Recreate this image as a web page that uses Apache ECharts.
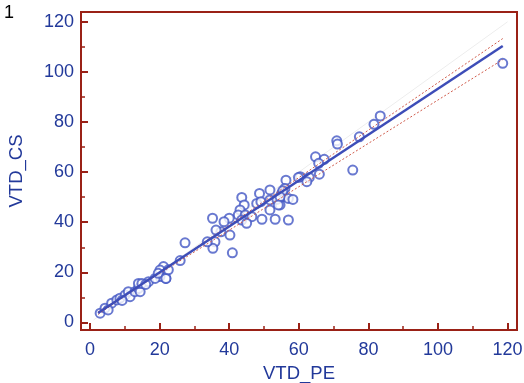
<!DOCTYPE html>
<html>
<head>
<meta charset="utf-8">
<script src="https://cdn.jsdelivr.net/npm/echarts@6/dist/echarts.min.js"></script>
<style>
  html, body { margin: 0; padding: 0; background: #fff; }
  #chart { width: 524px; height: 383px; }
</style>
</head>
<body>
<div id="chart"></div>
<script>
// measured values (VTD_PE vs VTD_CS)
const peValues = [
  118.6, 83.4, 81.6, 77.4, 75.5, 70.9, 71.1, 64.8, 67.3, 65.7, 65.9, 60.4, 63.0, 62.3,
  56.3, 59.9, 56.0, 55.1, 55.4, 57.0, 58.3, 54.6, 57.0,
  51.7, 48.7, 43.6, 44.3, 47.9, 49.1, 51.7, 53.7, 55.4, 54.6, 51.7, 54.1,
  49.4, 53.2, 43.1, 42.6, 44.6, 46.5, 43.6, 45.0, 40.0, 38.5, 35.2, 40.2, 37.6, 36.2,
  35.9, 35.3, 33.7, 27.3, 40.9, 25.9, 21.1, 21.8, 20.1,
  2.9, 4.3, 6.2, 7.7, 8.6, 10.1, 11.0, 11.5, 12.9, 13.9, 14.4, 13.9, 14.9, 16.8,
  18.7, 20.1, 19.6, 21.8, 5.2, 9.2, 16.0, 22.5
];
const csValues = [
  103.4, 82.4, 79.1, 74.1, 60.8, 72.5, 71.2, 66.1, 65.1, 63.5, 59.2, 58.2, 57.9, 56.2,
  56.8, 57.9, 53.5, 51.5, 50.2, 49.5, 49.1, 46.9, 40.9,
  52.9, 51.5, 49.9, 46.9, 47.5, 48.2, 48.9, 49.1, 52.6, 50.2, 44.9, 46.9,
  41.2, 41.2, 44.9, 42.9, 42.9, 42.2, 40.9, 39.6, 41.6, 40.2, 41.6, 34.9, 36.2, 36.9,
  32.2, 29.6, 32.2, 31.8, 27.8, 24.7, 22.3, 17.6, 18.3,
  3.7, 5.7, 7.7, 9.0, 9.7, 11.0, 12.3, 10.3, 12.3, 13.6, 12.3, 15.6, 15.6, 16.3,
  17.6, 20.9, 19.6, 17.6, 5.0, 8.8, 15.2, 21.0
];

// regression line, 95% CI lines, identity line (end points)
const regX = [2.3, 118.6];
const regY = [3.8, 110.3];
const ciUpperX = [2.3, 118.6];
const ciUpperY = [3.2, 113.3];
const ciLowerX = [2.3, 118.6];
const ciLowerY = [4.2, 104.9];
const identX = [1, 120];
const identY = [1, 120];

const majorTicks = [0, 20, 40, 60, 80, 100, 120];
const minorTicks = [10, 30, 50, 70, 90, 110];

const frameColor = '#9a2116';
const textColor = '#22399a';
const fontFamily = '"Liberation Sans", Arial, sans-serif';

const pairs = (xs, ys) => xs.map((x, i) => [x, ys[i]]);

const axisBase = (min, max) => ({
  type: 'value',
  min: min,
  max: max,
  splitLine: { show: false },
  axisLine: { show: true, onZero: false, lineStyle: { color: frameColor, width: 2 } },
});

const chart = echarts.init(document.getElementById('chart'));

chart.setOption({
  animation: false,
  title: {
    text: '1',
    left: -1,
    top: -1,
    textStyle: { color: '#000', fontSize: 18, fontWeight: 'normal', fontFamily: fontFamily },
  },
  grid: {
    left: 81,
    right: 7,
    top: 12,
    bottom: 53,
    outerBoundsMode: 'none',
    containLabel: false,
    show: true,
    borderColor: frameColor,
    borderWidth: 2,
  },
  xAxis: [
    {
      ...axisBase(-2.6, 122.7),
      position: 'bottom',
      name: 'VTD_PE',
      nameLocation: 'middle',
      nameGap: 34,
      nameTextStyle: { color: textColor, fontSize: 18.5, fontFamily: fontFamily },
      axisTick: {
        show: true,
        inside: true,
        length: 7,
        customValues: majorTicks,
        lineStyle: { color: frameColor, width: 2 },
      },
      axisLabel: {
        customValues: majorTicks,
        color: textColor,
        fontSize: 18,
        fontFamily: fontFamily,
        margin: 11,
      },
    },
    {
      ...axisBase(-2.6, 122.7),
      position: 'bottom',
      axisLine: { show: false, onZero: false },
      axisTick: {
        show: true,
        inside: true,
        length: 4,
        customValues: minorTicks,
        lineStyle: { color: frameColor, width: 1.5 },
      },
      axisLabel: { show: false },
    },
  ],
  yAxis: [
    {
      ...axisBase(-3, 123.9),
      position: 'left',
      name: 'VTD_CS',
      nameLocation: 'middle',
      nameGap: 55,
      nameTextStyle: { color: textColor, fontSize: 18.5, fontFamily: fontFamily },
      axisTick: {
        show: true,
        inside: true,
        length: 7,
        customValues: majorTicks,
        lineStyle: { color: frameColor, width: 2 },
      },
      axisLabel: {
        customValues: majorTicks,
        color: textColor,
        fontSize: 18,
        fontFamily: fontFamily,
        margin: 7,
      },
    },
    {
      ...axisBase(-3, 123.9),
      position: 'left',
      axisLine: { show: false, onZero: false },
      axisTick: {
        show: true,
        inside: true,
        length: 4,
        customValues: minorTicks,
        lineStyle: { color: frameColor, width: 1.5 },
      },
      axisLabel: { show: false },
    },
  ],
  series: [
    {
      name: 'identity',
      type: 'line',
      data: pairs(identX, identY),
      showSymbol: false,
      lineStyle: { color: '#ededed', width: 1 },
      z: 1,
    },
    {
      name: 'scatter',
      type: 'scatter',
      data: pairs(peValues, csValues),
      symbol: 'emptyCircle',
      symbolSize: 9,
      itemStyle: { color: '#4358c4', borderWidth: 1.1 },
      z: 2,
    },
    {
      name: 'ci upper',
      type: 'line',
      data: pairs(ciUpperX, ciUpperY),
      showSymbol: false,
      lineStyle: { color: '#cf5a4a', width: 1, type: [2, 2] },
      z: 3,
    },
    {
      name: 'ci lower',
      type: 'line',
      data: pairs(ciLowerX, ciLowerY),
      showSymbol: false,
      lineStyle: { color: '#cf5a4a', width: 1, type: [2, 2] },
      z: 3,
    },
    {
      name: 'regression',
      type: 'line',
      data: pairs(regX, regY),
      showSymbol: false,
      lineStyle: { color: '#3d4db8', width: 2.5 },
      z: 4,
    },
  ],
});
</script>
</body>
</html>
